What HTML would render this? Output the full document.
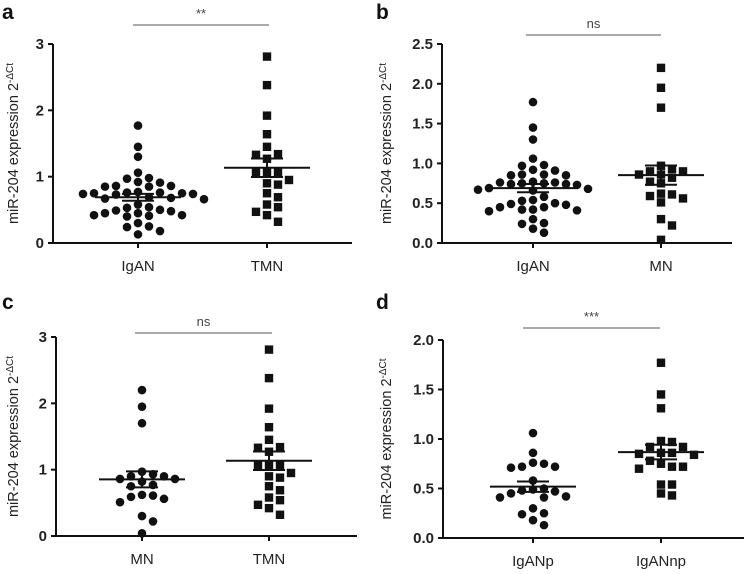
<!DOCTYPE html>
<html><head><meta charset="utf-8">
<style>
html,body{margin:0;padding:0;background:#fff;}
svg{display:block;font-family:"Liberation Sans",Arial,sans-serif;}
</style></head>
<body>
<svg id="fig" width="748" height="574" viewBox="0 0 748 574" xmlns="http://www.w3.org/2000/svg"></svg>
<script>
// ---- data ----
const panelLetters = ["a","b","c","d"];
const catsA = ["IgAN","TMN"];
const catsB = ["IgAN","MN"];
const catsC = ["MN","TMN"];
const catsD = ["IgANp","IgANnp"];
const IgAN = [1.77,1.45,1.30,1.06,0.98,0.97,0.92,0.91,0.86,0.86,0.85,0.85,0.77,0.76,0.76,0.75,0.75,0.74,0.74,0.73,0.69,0.68,0.67,0.66,0.58,0.54,0.53,0.50,0.49,0.48,0.45,0.45,0.42,0.42,0.41,0.40,0.30,0.25,0.24,0.18,0.13];
const TMN = [2.81,2.38,1.92,1.64,1.45,1.34,1.33,1.27,1.07,1.06,1.06,0.95,0.90,0.88,0.75,0.69,0.58,0.54,0.47,0.42,0.32];
const MN = [2.20,1.95,1.70,0.97,0.93,0.90,0.90,0.86,0.86,0.82,0.77,0.75,0.62,0.61,0.59,0.56,0.51,0.30,0.22,0.04];
const IgANp = [1.06,0.86,0.76,0.75,0.72,0.72,0.71,0.58,0.50,0.49,0.48,0.47,0.42,0.41,0.41,0.45,0.30,0.25,0.24,0.18,0.13];
const IgANnp = [1.77,1.45,1.31,0.98,0.97,0.92,0.92,0.86,0.86,0.85,0.84,0.78,0.75,0.72,0.72,0.70,0.54,0.54,0.45,0.43];
const ticks3 = ["0","1","2","3"];
const tickVals3 = [0,1,2,3];
const ticks25 = ["0.0","0.5","1.0","1.5","2.0","2.5"];
const tickVals25 = [0,0.5,1,1.5,2,2.5];
const ticks20 = ["0.0","0.5","1.0","1.5","2.0"];
const tickVals20 = [0,0.5,1,1.5,2];
const sigLabels = ["**","ns","ns","***"];

const NS="http://www.w3.org/2000/svg";
const svg=document.getElementById('fig');
function mk(tag,attrs,parent){const e=document.createElementNS(NS,tag);for(const k in attrs)e.setAttribute(k,attrs[k]);(parent||svg).appendChild(e);return e;}

// swarm with rectangular collision: overlap only if close in both x and y
function swarm(ys,dyMin,dx){
  const idx=ys.map((v,i)=>i).sort((a,b)=>ys[a]-ys[b]);
  const placed=[];const off=new Array(ys.length).fill(0);
  idx.forEach(i=>{
    for(let k=0;k<40;k++){
      const o=(k%2?1:-1)*Math.ceil(k/2)*dx/2;
      if(placed.every(p=>Math.abs(p.y-ys[i])>=dyMin||Math.abs(p.x-o)>=dx)){off[i]=o;placed.push({x:o,y:ys[i]});break;}
    }
  });
  return off;
}

function panel(cfg){
  const g=mk('g',{});
  
  
  const y=v=>cfg.y0-(v/cfg.max)*(cfg.y0-cfg.ytop);
  const t=mk('text',{x:cfg.lx,y:cfg.ly,'font-size':21,'font-weight':'bold',fill:'#111'},g);t.textContent=cfg.letter;
  
  const ya=mk('line',{x1:cfg.ax,y1:cfg.ytop,x2:cfg.ax,y2:cfg.y0+1,stroke:'#111','stroke-width':2},g);
  
  const xa=mk('line',{x1:cfg.ax-5,y1:cfg.y0,x2:cfg.xend,y2:cfg.y0,stroke:'#111','stroke-width':2},g);
  
  cfg.tickVals.forEach((v,i)=>{
    mk('line',{x1:cfg.ax-5,y1:y(v),x2:cfg.ax,y2:y(v),stroke:'#111','stroke-width':2},g);
    const tt=mk('text',{x:cfg.ax-9,y:y(v)+5,'font-size':15,'font-weight':'bold','text-anchor':'end',fill:'#222'},g);
    tt.textContent=cfg.ticks[i];
    
  });
  const yt=mk('text',{x:0,y:0,'font-size':14.5,'text-anchor':'middle',fill:'#222',transform:`translate(${cfg.tx},${(cfg.ytop+cfg.y0)/2}) rotate(-90)`},g);
  
  yt.innerHTML='miR-204 expression 2<tspan font-size="10" dy="-5">-ΔCt</tspan>';
  cfg.cats.forEach((c,ci)=>{
    const cx=cfg.cx[ci];
    mk('line',{x1:cx,y1:cfg.y0,x2:cx,y2:cfg.y0+5,stroke:'#111','stroke-width':2},g);
    const lt=mk('text',{x:cx,y:cfg.y0+28,'font-size':15,'text-anchor':'middle',fill:'#222'},g);
    lt.textContent=c;
    
    const vals=cfg.series[ci];
    const ys=vals.map(y);
    const offs=swarm(ys,8,11);
    vals.forEach((v,i)=>{
      let m;
      if(cfg.shapes[ci]==='c') m=mk('circle',{cx:cx+offs[i],cy:ys[i],r:4.3,fill:'#111'},g);
      else m=mk('rect',{x:cx+offs[i]-4.2,y:ys[i]-4.2,width:8.4,height:8.4,fill:'#111'},g);
      
    });
    const n=vals.length,mean=vals.reduce((a,b)=>a+b,0)/n;
    const sd=Math.sqrt(vals.reduce((a,b)=>a+(b-mean)**2,0)/(n-1)),sem=sd/Math.sqrt(n);
    const ml=mk('line',{x1:cx-43,y1:y(mean),x2:cx+43,y2:y(mean),stroke:'#111','stroke-width':2},g);
    
    [mean-sem,mean+sem].forEach(s=>{
      const el=mk('line',{x1:cx-16,y1:y(s),x2:cx+16,y2:y(s),stroke:'#111','stroke-width':2},g);
      
    });
    mk('line',{x1:cx,y1:y(mean-sem),x2:cx,y2:y(mean+sem),stroke:'#111','stroke-width':2},g);
  });
  const sl=mk('line',{x1:cfg.sx1,y1:cfg.sy,x2:cfg.sx2,y2:cfg.sy,stroke:'#777','stroke-width':1.3},g);
  
  const st=mk('text',{x:(cfg.sx1+cfg.sx2)/2,y:cfg.sy-7,'font-size':13,'text-anchor':'middle',fill:'#444'},g);
  st.textContent=cfg.sig;
  
}

panel({letter:panelLetters[0],lx:2,ly:19,ax:53,y0:243,ytop:44,max:3,xend:352,cx:[138,267],tx:18,
  ticks:ticks3,tickVals:tickVals3,cats:catsA,series:[IgAN,TMN],shapes:['c','s'],sx1:133,sx2:269,sy:25,sig:sigLabels[0]});
panel({letter:panelLetters[1],lx:376,ly:19,ax:442,y0:243,ytop:44,max:2.5,xend:732,cx:[533,661],tx:391,
  ticks:ticks25,tickVals:tickVals25,cats:catsB,series:[IgAN,MN],shapes:['c','s'],sx1:526,sx2:661,sy:35,sig:sigLabels[1]});
panel({letter:panelLetters[2],lx:2,ly:309,ax:56,y0:536,ytop:337,max:3,xend:357,cx:[142,269],tx:18,
  ticks:ticks3,tickVals:tickVals3,cats:catsC,series:[MN,TMN],shapes:['c','s'],sx1:135,sx2:272,sy:333,sig:sigLabels[2]});
panel({letter:panelLetters[3],lx:376,ly:309,ax:443,y0:538,ytop:340,max:2,xend:744,cx:[533,661],tx:391,
  ticks:ticks20,tickVals:tickVals20,cats:catsD,series:[IgANp,IgANnp],shapes:['c','s'],sx1:523,sx2:660,sy:328,sig:sigLabels[3]});
</script>
</body></html>
